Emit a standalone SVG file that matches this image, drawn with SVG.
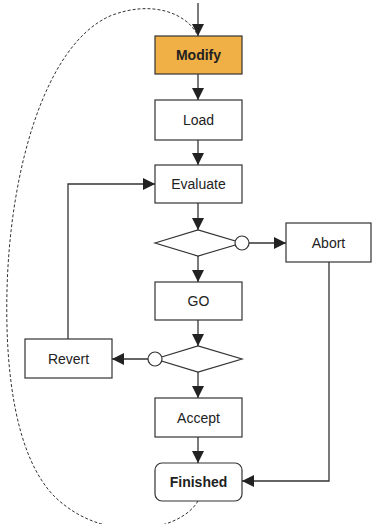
<svg xmlns="http://www.w3.org/2000/svg" width="372" height="524" viewBox="0 0 372 524">
<style>
.box{fill:#fff;stroke:#333;stroke-width:1.2}
.ln{fill:none;stroke:#333;stroke-width:1.3}
.t{font-family:"Liberation Sans",Arial,sans-serif;font-size:14px;fill:#222;text-anchor:middle}
.b{font-weight:bold}
</style>
<defs>
<marker id="ah" viewBox="0 0 12 12" refX="12" refY="6" markerWidth="12" markerHeight="12" markerUnits="userSpaceOnUse" orient="auto">
<path d="M0,0 L12,6 L0,12 Z" fill="#222"/>
</marker>
</defs>
<g id="connectors">
<path class="ln" d="M198,3 V36" marker-end="url(#ah)"/>
<path class="ln" d="M198,74 V100" marker-end="url(#ah)"/>
<path class="ln" d="M198,140 V165" marker-end="url(#ah)"/>
<path class="ln" d="M198,203 V230" marker-end="url(#ah)"/>
<path class="ln" d="M249,243 H286" marker-end="url(#ah)"/>
<path class="ln" d="M198,256 V282" marker-end="url(#ah)"/>
<path class="ln" d="M198,320 V346" marker-end="url(#ah)"/>
<path class="ln" d="M148,359 H112" marker-end="url(#ah)"/>
<path class="ln" d="M198,372 V398" marker-end="url(#ah)"/>
<path class="ln" d="M198,437 V463" marker-end="url(#ah)"/>
<path class="ln" d="M329,262 V481 H242" marker-end="url(#ah)"/>
<path class="ln" d="M68,339 V184 H155" marker-end="url(#ah)"/>
<path d="M198,501 C180,532 105,545 55,497 C15,457 5,370 7,290 C10,170 45,45 110,16 C150,0 185,12 197,34" fill="none" stroke="#333" stroke-width="1" stroke-dasharray="3,2"/>
</g>
<g id="modify">
<rect x="155" y="36" width="87" height="38" fill="#f0b045" stroke="#333" stroke-width="1.2"/>
<text class="t b" x="198.5" y="60">Modify</text>
</g>
<g id="load">
<rect class="box" x="155" y="100" width="87" height="40"/>
<text class="t" x="198.5" y="125">Load</text>
</g>
<g id="evaluate">
<rect class="box" x="155" y="165" width="87" height="38"/>
<text class="t" x="198.5" y="189">Evaluate</text>
</g>
<g id="decision1">
<path class="box" d="M155,243 L198,230 L242,243 L198,256 Z"/>
<circle class="box" cx="242" cy="243" r="7"/>
</g>
<g id="abort">
<rect class="box" x="286" y="223" width="85" height="39"/>
<text class="t" x="328.5" y="248">Abort</text>
</g>
<g id="go">
<rect class="box" x="155" y="282" width="87" height="38"/>
<text class="t" x="198.5" y="306">GO</text>
</g>
<g id="decision2">
<path class="box" d="M155,359 L198,346 L242,359 L198,372 Z"/>
<circle class="box" cx="155" cy="359" r="7"/>
</g>
<g id="revert">
<rect class="box" x="25" y="339" width="87" height="39"/>
<text class="t" x="68.5" y="364">Revert</text>
</g>
<g id="accept">
<rect class="box" x="155" y="398" width="87" height="39"/>
<text class="t" x="198.5" y="423">Accept</text>
</g>
<g id="finished">
<rect class="box" x="155" y="463" width="87" height="38" rx="7"/>
<text class="t b" x="198.5" y="487">Finished</text>
</g>
</svg>
